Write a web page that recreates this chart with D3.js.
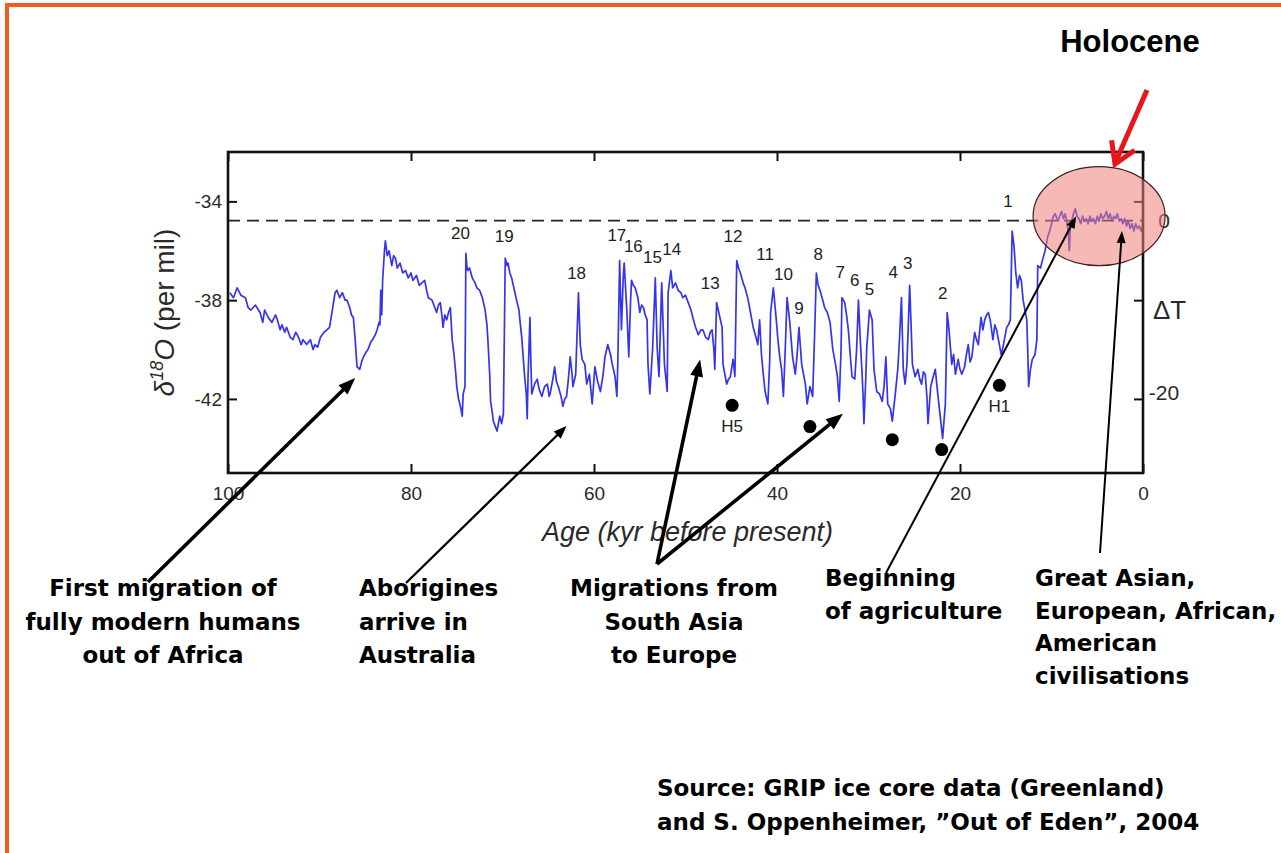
<!DOCTYPE html>
<html><head><meta charset="utf-8">
<script src="https://cdn.jsdelivr.net/npm/d3@7"></script>
<style>body{margin:0;background:#fff}svg{display:block}</style>
</head><body><svg id="c" width="1281" height="853"></svg>
<script>
// ---------------- DATA ----------------
const xTickValues = [100, 80, 60, 40, 20, 0];
const yTickValues = [-34, -38, -42];
const rightTickLabels = [["0", 0], ["-20", -20]];
const holoceneReference = -34.78;

// GRIP delta-18O record: [age kyr BP, delta18O per mil]
const gripRecord = [
[99.8,-37.7],[99.4,-37.9],[99.0,-37.5],[98.6,-37.8],[98.1,-37.9],[97.8,-38.3],[97.5,-38.4],[97.0,-38.2],[96.5,-38.5],[96.2,-38.9],[96.0,-38.4],[95.6,-38.7],[95.2,-38.9],[94.8,-38.6],[94.6,-38.8],[94.3,-39.2],[94.1,-39.0],[93.8,-39.3],[93.6,-39.1],[93.2,-39.5],[92.9,-39.6],[92.6,-39.3],[92.3,-39.5],[92.0,-39.8],[91.8,-39.6],[91.4,-39.8],[91.0,-39.6],[90.7,-40.0],[90.5,-39.8],[90.2,-39.9],[89.9,-39.5],[89.5,-39.3],[89.2,-39.2],[88.9,-39.1],[88.6,-38.4],[88.3,-37.7],[88.1,-37.6],[87.8,-37.9],[87.5,-37.7],[87.2,-38.0],[87.0,-38.0],[86.7,-38.3],[86.5,-38.6],[86.3,-38.7],[86.1,-39.6],[85.9,-40.7],[85.6,-40.8],[85.4,-40.5],[85.2,-40.3],[84.9,-40.1],[84.7,-40.0],[84.4,-39.7],[84.2,-39.6],[83.9,-39.4],[83.7,-39.2],[83.5,-38.9],[83.4,-39.0],[83.3,-37.6],[83.2,-38.6],[83.1,-37.2],[82.9,-36.0],[82.8,-35.6],[82.6,-36.2],[82.4,-36.0],[82.1,-36.6],[81.9,-36.2],[81.7,-36.3],[81.5,-36.7],[81.2,-36.5],[80.9,-36.9],[80.6,-36.8],[80.3,-37.1],[80.0,-36.9],[79.8,-37.2],[79.4,-37.0],[79.1,-37.4],[78.8,-37.3],[78.5,-37.2],[78.3,-37.6],[78.1,-37.9],[77.7,-38.0],[77.4,-38.3],[77.2,-38.5],[77.0,-38.2],[76.8,-38.1],[76.6,-38.7],[76.5,-39.1],[76.3,-38.6],[76.1,-38.8],[75.9,-38.5],[75.7,-38.3],[75.5,-39.6],[75.3,-40.2],[75.1,-41.0],[75.0,-41.5],[74.8,-42.0],[74.6,-42.3],[74.4,-42.7],[74.3,-41.8],[74.1,-41.5],[74.0,-36.1],[73.9,-36.6],[73.8,-36.8],[73.6,-36.7],[73.3,-37.1],[73.0,-37.3],[72.8,-37.5],[72.5,-37.6],[72.2,-37.9],[71.9,-38.4],[71.7,-39.0],[71.6,-39.6],[71.4,-41.0],[71.3,-42.1],[71.1,-42.6],[71.0,-42.9],[70.8,-43.1],[70.6,-43.3],[70.4,-42.9],[70.3,-42.7],[70.1,-43.0],[69.9,-42.6],[69.7,-36.3],[69.5,-36.6],[69.4,-36.5],[69.2,-36.9],[69.0,-37.1],[68.7,-37.6],[68.4,-38.1],[68.2,-38.4],[68.1,-38.8],[67.9,-39.5],[67.8,-40.0],[67.6,-41.0],[67.4,-41.8],[67.3,-42.8],[67.2,-41.0],[67.0,-38.7],[66.9,-40.5],[66.8,-41.8],[66.5,-41.4],[66.2,-41.2],[66.0,-41.6],[65.7,-41.9],[65.4,-41.5],[65.1,-41.4],[64.9,-41.9],[64.8,-41.8],[64.5,-41.2],[64.3,-40.7],[64.1,-41.3],[63.9,-41.5],[63.6,-41.9],[63.4,-42.3],[63.2,-42.0],[63.0,-41.9],[62.8,-41.2],[62.6,-40.3],[62.4,-41.0],[62.3,-41.5],[62.0,-41.0],[61.7,-37.7],[61.5,-39.8],[61.3,-40.4],[61.0,-40.6],[60.8,-41.4],[60.5,-41.0],[60.2,-42.2],[59.9,-40.7],[59.6,-41.3],[59.3,-41.7],[59.0,-41.0],[58.8,-40.3],[58.5,-39.8],[58.2,-40.2],[58.0,-40.6],[57.7,-41.1],[57.5,-41.9],[57.4,-40.6],[57.2,-36.4],[57.0,-39.2],[56.8,-37.0],[56.7,-36.5],[56.4,-38.5],[56.2,-40.3],[56.0,-38.0],[55.9,-37.2],[55.7,-37.4],[55.5,-37.5],[55.2,-37.9],[55.0,-38.5],[54.8,-38.2],[54.6,-38.3],[54.4,-38.6],[54.2,-38.8],[54.1,-40.6],[53.9,-41.8],[53.6,-40.0],[53.3,-37.1],[53.1,-39.9],[52.9,-41.1],[52.6,-37.3],[52.3,-40.6],[52.0,-41.7],[51.9,-37.7],[51.6,-36.8],[51.4,-37.5],[51.1,-37.3],[50.8,-37.6],[50.5,-37.7],[50.3,-37.9],[50.0,-37.8],[49.7,-38.1],[49.4,-38.4],[49.2,-38.7],[48.9,-39.1],[48.6,-39.4],[48.3,-39.2],[48.1,-39.2],[47.8,-39.5],[47.5,-39.6],[47.3,-39.3],[47.1,-39.2],[46.9,-40.0],[46.8,-40.8],[46.6,-38.1],[46.3,-38.6],[46.0,-39.1],[45.9,-40.6],[45.7,-41.0],[45.5,-41.4],[45.3,-41.2],[45.1,-41.1],[44.8,-40.4],[44.6,-41.1],[44.4,-36.4],[44.2,-36.7],[44.0,-36.9],[43.7,-37.3],[43.5,-37.5],[43.2,-37.9],[42.9,-38.5],[42.6,-39.1],[42.3,-39.5],[42.1,-39.8],[41.9,-38.8],[41.7,-40.2],[41.5,-41.0],[41.3,-41.7],[41.0,-42.2],[40.8,-40.5],[40.7,-38.5],[40.4,-37.5],[40.2,-38.3],[40.1,-38.7],[39.9,-39.6],[39.7,-40.3],[39.5,-40.8],[39.3,-41.9],[39.1,-40.0],[38.9,-37.9],[38.6,-38.9],[38.3,-40.3],[38.0,-41.0],[37.8,-40.2],[37.6,-39.1],[37.3,-40.6],[37.1,-41.0],[36.9,-41.4],[36.7,-42.2],[36.4,-41.5],[36.1,-41.9],[35.9,-39.5],[35.7,-36.9],[35.5,-37.4],[35.3,-37.6],[35.0,-38.0],[34.8,-38.3],[34.5,-38.5],[34.2,-38.9],[33.9,-40.0],[33.6,-40.6],[33.4,-41.1],[33.2,-42.1],[33.0,-40.0],[32.9,-37.9],[32.6,-38.1],[32.4,-38.6],[32.2,-39.2],[32.0,-40.2],[31.8,-41.1],[31.5,-41.2],[31.3,-40.0],[31.1,-38.0],[30.9,-39.6],[30.7,-41.0],[30.6,-41.8],[30.5,-43.0],[30.3,-41.2],[30.2,-40.0],[29.9,-38.4],[29.6,-38.8],[29.4,-40.8],[29.1,-41.7],[28.8,-41.8],[28.5,-42.1],[28.3,-41.5],[28.1,-40.3],[27.9,-42.2],[27.6,-42.4],[27.4,-42.9],[27.1,-41.9],[26.8,-40.8],[26.6,-39.5],[26.4,-37.9],[26.2,-40.8],[26.0,-41.4],[25.8,-40.6],[25.5,-37.4],[25.3,-39.5],[25.2,-40.6],[24.9,-41.1],[24.6,-40.8],[24.4,-41.2],[24.2,-41.4],[24.0,-40.9],[23.8,-41.0],[23.6,-42.0],[23.5,-43.0],[23.2,-41.5],[23.0,-41.2],[22.7,-40.8],[22.4,-41.9],[22.1,-42.9],[21.9,-43.6],[21.6,-42.2],[21.4,-38.5],[21.2,-39.2],[20.9,-40.6],[20.7,-40.2],[20.5,-41.0],[20.2,-40.4],[20.0,-40.8],[19.8,-41.0],[19.5,-40.7],[19.3,-40.2],[19.1,-39.8],[18.9,-40.5],[18.7,-40.3],[18.4,-39.3],[18.2,-39.6],[18.0,-39.8],[17.7,-38.7],[17.5,-39.2],[17.3,-38.8],[17.1,-38.6],[16.9,-38.5],[16.7,-38.8],[16.4,-39.6],[16.2,-39.0],[16.0,-39.2],[15.7,-39.8],[15.5,-40.2],[15.3,-39.9],[15.1,-39.5],[14.9,-39.1],[14.7,-39.0],[14.5,-38.8],[14.4,-37.0],[14.3,-35.2],[14.1,-35.8],[13.9,-36.9],[13.7,-37.5],[13.5,-37.0],[13.3,-37.2],[13.1,-38.0],[12.9,-38.4],[12.7,-38.8],[12.6,-40.0],[12.5,-41.5],[12.3,-40.8],[12.1,-40.4],[11.8,-40.2],[11.6,-39.6],[11.5,-36.6],[11.2,-36.7],[11.0,-36.4],[10.7,-36.0],[10.5,-35.6],[10.4,-35.4],[10.2,-35.2],[10.0,-34.9],[9.8,-34.6],[9.6,-34.5],[9.3,-34.8],[9.1,-34.6],[8.9,-34.4],[8.7,-34.7],[8.5,-34.5],[8.3,-34.9],[8.15,-35.3],[8.05,-36.0],[7.95,-35.1],[7.8,-34.8],[7.6,-34.5],[7.4,-34.3],[7.2,-34.6],[7.0,-34.7],[6.8,-34.9],[6.6,-34.6],[6.4,-34.8],[6.2,-34.7],[6.0,-34.9],[5.8,-34.6],[5.6,-34.8],[5.4,-34.7],[5.2,-34.9],[5.0,-34.6],[4.8,-34.8],[4.6,-34.5],[4.4,-34.7],[4.2,-34.6],[4.0,-34.4],[3.8,-34.7],[3.6,-34.5],[3.4,-34.8],[3.2,-34.6],[3.0,-34.7],[2.8,-34.5],[2.6,-34.8],[2.4,-34.7],[2.2,-34.9],[2.0,-34.7],[1.8,-35.0],[1.6,-34.8],[1.4,-35.1],[1.2,-34.9],[1.0,-35.2],[0.8,-34.9],[0.6,-35.1],[0.4,-35.0],[0.2,-35.2],[0.05,-35.0]
];

// Dansgaard-Oeschger event numbers: [label, age, delta18O of label]
const doEvents = [
["1",14.75,-34.0],["20",74.6,-35.28],["19",69.8,-35.4],["18",61.9,-36.9],["17",57.5,-35.35],
["16",55.7,-35.8],["15",53.6,-36.25],["14",51.5,-35.95],["13",47.3,-37.3],["12",44.8,-35.4],
["11",41.3,-36.15],["10",39.3,-36.95],["9",37.6,-38.3],["8",35.5,-36.15],["7",33.1,-36.85],
["6",31.5,-37.2],["5",29.9,-37.55],["4",27.3,-36.85],["3",25.7,-36.5],["2",21.9,-37.7]
];

// Heinrich events: [label, age, delta18O]
const heinrichEvents = [["H5",44.9,-42.26],["",36.4,-43.12],["",27.4,-43.65],["",22.0,-44.05],["H1",15.7,-41.45]];

const annotationTexts = [
  ["First migration of","fully modern humans","out of Africa"],
  ["Aborigines","arrive in","Australia"],
  ["Migrations from","South Asia","to Europe"],
  ["Beginning","of agriculture"],
  ["Great Asian,","European, African,","American","civilisations"]
];
// arrow targets on the record: [age, delta18O]
const annotationTargets = [[86.1,-41.15],[63.0,-43.1],[48.4,-40.4],[32.8,-42.6],[7.3,-34.6],[2.3,-35.2]];
const sourceLines = ["Source: GRIP ice core data (Greenland)","and S. Oppenheimer, \u201DOut of Eden\u201D, 2004"];
const holoceneCentre = [4.8,-34.6];

// ---------------- DRAW ----------------
const svg = d3.select("#c");
const M = {l:228, t:152, r:1143, b:473};
const x = d3.scaleLinear().domain([100,0]).range([M.l,M.r]);
const y = d3.scaleLinear().domain([-45,-32]).range([M.b,M.t]);
const yR = d3.scaleLinear().domain([-29.4,8]).range([M.b,M.t]);
const axisFont = "'Liberation Sans', Arial, Helvetica, sans-serif";
const boldFont = "'DejaVu Sans', Verdana, sans-serif";
const plain = d => String(d);

// orange slide border
svg.append("rect").attr("x",5).attr("y",3).attr("width",1281).attr("height",4).attr("fill","#f25a1e");
svg.append("rect").attr("x",5).attr("y",3).attr("width",4).attr("height",853).attr("fill","#f25a1e");

// dashed reference line
svg.append("line").attr("x1",x(100)).attr("x2",x(0)).attr("y1",y(holoceneReference)).attr("y2",y(holoceneReference))
  .attr("stroke","#222").attr("stroke-width",1.6).attr("stroke-dasharray","12,7");

// record
svg.append("path").datum(gripRecord)
  .attr("d", d3.line().x(d=>x(d[0])).y(d=>y(d[1])))
  .attr("fill","none").attr("stroke","#3434ee").attr("stroke-width",1.7).attr("stroke-linejoin","round");

// axes
function styleAxis(g){
  g.select(".domain").remove();
  g.selectAll(".tick line").attr("stroke","#111").attr("stroke-width",2);
  g.selectAll(".tick text").attr("font-family",axisFont).attr("font-size",19).attr("fill","#2a2a2a");
}
svg.append("g").attr("transform",`translate(0,${M.b})`)
  .call(d3.axisBottom(x).tickValues(xTickValues).tickFormat(plain).tickSizeInner(-9).tickSizeOuter(0).tickPadding(14)).call(styleAxis);
svg.append("g").attr("transform",`translate(0,${M.t})`)
  .call(d3.axisTop(x).tickValues(xTickValues).tickSizeInner(-9).tickSizeOuter(0).tickFormat("")).call(styleAxis);
svg.append("g").attr("transform",`translate(${M.l},0)`)
  .call(d3.axisLeft(y).tickValues(yTickValues).tickFormat(plain).tickSizeInner(-9).tickSizeOuter(0).tickPadding(6)).call(styleAxis);
svg.append("g").attr("transform",`translate(${M.r},0)`)
  .call(d3.axisRight(y).tickValues(yTickValues).tickSizeInner(-9).tickSizeOuter(0).tickFormat("")).call(styleAxis);

// frame
svg.append("rect").attr("x",M.l).attr("y",M.t).attr("width",M.r-M.l).attr("height",M.b-M.t)
  .attr("fill","none").attr("stroke","#111").attr("stroke-width",2.6);

// right-hand ΔT labels
svg.selectAll("text.rl").data(rightTickLabels).join("text").attr("class","rl")
  .attr("x",M.r+21).attr("y",d=>yR(d[1])).attr("dy","0.35em").attr("text-anchor","middle")
  .attr("font-family",axisFont).attr("font-size",21).attr("fill","#2a2a2a").text(d=>d[0]);
svg.append("text").attr("x",M.r+10).attr("y",yR(-10.4)).attr("dy","0.35em")
  .attr("font-family",axisFont).attr("font-size",26).attr("fill","#2a2a2a").text("\u0394T");

// axis titles
svg.append("text").attr("x",(M.l+M.r)/2+2).attr("y",541).attr("text-anchor","middle")
  .attr("font-family",axisFont).attr("font-size",27).attr("font-style","italic").attr("fill","#2a2a2a")
  .text("Age (kyr before present)");
const yt = svg.append("text").attr("transform",`translate(174,${(M.t+M.b)/2}) rotate(-90)`).attr("text-anchor","middle")
  .attr("font-family",axisFont).attr("font-size",28).attr("fill","#2a2a2a");
yt.append("tspan").attr("font-style","italic").text("\u03B4");
yt.append("tspan").attr("font-size",18).attr("font-style","italic").attr("dy",-11).text("18");
yt.append("tspan").attr("font-style","italic").attr("dy",11).text("O");
yt.append("tspan").text(" (per mil)");

// DO event numbers
svg.selectAll("text.do").data(doEvents).join("text").attr("class","do")
  .attr("x",d=>x(d[1])).attr("y",d=>y(d[2])).attr("dy","0.35em").attr("text-anchor","middle")
  .attr("font-family",axisFont).attr("font-size",17).attr("fill","#222").text(d=>d[0]);

// Heinrich events
svg.selectAll("circle.h").data(heinrichEvents).join("circle").attr("class","h")
  .attr("cx",d=>x(d[1])).attr("cy",d=>y(d[2])).attr("r",6.5).attr("fill","#000");
svg.selectAll("text.h").data(heinrichEvents.filter(d=>d[0])).join("text").attr("class","h")
  .attr("x",d=>x(d[1])).attr("y",d=>y(d[2])+21).attr("dy","0.35em").attr("text-anchor","middle")
  .attr("font-family",axisFont).attr("font-size",17).attr("fill","#222").text(d=>d[0]);

// Holocene ellipse
svg.append("ellipse").attr("cx",x(holoceneCentre[0])).attr("cy",y(holoceneCentre[1])).attr("rx",66).attr("ry",49.5)
  .attr("fill","rgb(238,128,120)").attr("fill-opacity",0.55).attr("stroke","#3a2020").attr("stroke-width",1.2);

// annotation text blocks
const blocks = [
  {x:163, y:596, anchor:"middle", dy:33.5},
  {x:359, y:596, anchor:"start", dy:33.5},
  {x:674, y:596, anchor:"middle", dy:33.5},
  {x:825, y:586, anchor:"start", dy:32.5},
  {x:1035, y:586, anchor:"start", dy:32.7}
];
annotationTexts.forEach((lines,i)=>{
  const b = blocks[i];
  const t = svg.append("text").attr("font-family",boldFont).attr("font-weight","bold").attr("font-size",23)
    .attr("fill","#000").attr("text-anchor",b.anchor);
  lines.forEach((s,j)=>t.append("tspan").attr("x",b.x).attr("y",b.y+j*b.dy).text(s));
});
const src = svg.append("text").attr("font-family",boldFont).attr("font-weight","bold").attr("font-size",23).attr("fill","#000");
sourceLines.forEach((s,j)=>src.append("tspan").attr("x",657).attr("y",796+j*34).text(s));

svg.append("text").attr("x",1130).attr("y",52).attr("text-anchor","middle")
  .attr("font-family",axisFont).attr("font-weight","bold").attr("font-size",31).attr("fill","#000").text("Holocene");

// arrows
function arrow(x1,y1,x2,y2,sw,hl,hw,color){
  const dx=x2-x1, dy=y2-y1, L=Math.hypot(dx,dy), ux=dx/L, uy=dy/L;
  const bx=x2-ux*hl, by=y2-uy*hl;
  svg.append("line").attr("x1",x1).attr("y1",y1).attr("x2",bx+ux*2).attr("y2",by+uy*2)
    .attr("stroke",color).attr("stroke-width",sw);
  svg.append("path").attr("d",`M${x2},${y2}L${bx-uy*hw/2},${by+ux*hw/2}L${bx+uy*hw/2},${by-ux*hw/2}Z`).attr("fill",color);
}
const starts = [[148,582,3.6,17,13],[406,583,2.3,13,10],[657,564,3.6,17,13],[657,564,3.6,17,13],[886,573,2,12,9],[1100,553,2,12,9]];
annotationTargets.forEach((t,i)=>{
  const s = starts[i];
  arrow(s[0],s[1],x(t[0]),y(t[1]),s[2],s[3],s[4],"#000");
});

// red Holocene arrow with open head
const rx1=1147, ry1=90, rx2=1115, ry2=164;
svg.append("line").attr("x1",rx1).attr("y1",ry1).attr("x2",rx2+1).attr("y2",ry2-3)
  .attr("stroke","#e8161b").attr("stroke-width",5);
(function(){
  const dx=rx1-rx2, dy=ry1-ry2, a=Math.atan2(dy,dx), l=24, s=0.55;
  const p1=[rx2+l*Math.cos(a+s), ry2+l*Math.sin(a+s)], p2=[rx2+l*Math.cos(a-s), ry2+l*Math.sin(a-s)];
  svg.append("path").attr("d",`M${p1[0]},${p1[1]}L${rx2},${ry2}L${p2[0]},${p2[1]}`)
    .attr("fill","none").attr("stroke","#e8161b").attr("stroke-width",5).attr("stroke-linejoin","miter");
})();
</script></body></html>
